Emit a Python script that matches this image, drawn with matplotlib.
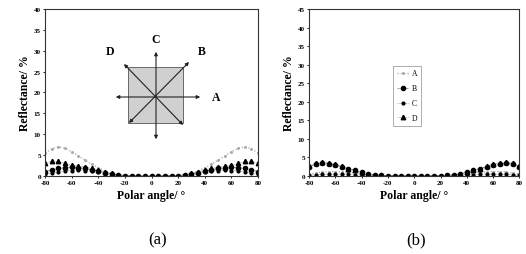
import numpy as np
import matplotlib
matplotlib.use("Agg")
import matplotlib.pyplot as plt

plt.rcParams['font.family'] = ['Liberation Serif', 'DejaVu Serif']

angles = [-80, -75, -70, -65, -60, -55, -50, -45, -40, -35, -30, -25, -20, -15, -10, -5,
          0, 5, 10, 15, 20, 25, 30, 35, 40, 45, 50, 55, 60, 65, 70, 75, 80]

# panel (a)
a_A = [5.5, 6.5, 7.0, 6.6, 5.8, 4.8, 3.8, 2.8, 2.0, 1.2, 0.6, 0.3, 0.1, 0.05, 0.0, 0.0,
       0.0, 0.0, 0.0, 0.05, 0.1, 0.3, 0.6, 1.2, 2.0, 2.8, 3.8, 4.8, 5.8, 6.6, 7.0, 6.5, 5.5]
a_B = [1.0, 1.5, 1.8, 2.0, 2.2, 2.0, 1.8, 1.5, 1.2, 0.8, 0.5, 0.3, 0.1, 0.05, 0.0, 0.0,
       0.0, 0.0, 0.0, 0.05, 0.1, 0.3, 0.5, 0.8, 1.2, 1.5, 1.8, 2.0, 2.2, 2.0, 1.8, 1.5, 1.0]
a_C = [0.4, 0.7, 1.0, 1.2, 1.3, 1.4, 1.3, 1.1, 0.9, 0.6, 0.4, 0.2, 0.1, 0.05, 0.0, 0.0,
       0.0, 0.0, 0.0, 0.05, 0.1, 0.2, 0.4, 0.6, 0.9, 1.1, 1.3, 1.4, 1.3, 1.2, 1.0, 0.7, 0.4]
a_D = [3.0, 3.6, 3.5, 3.0, 2.6, 2.4, 2.1, 1.8, 1.5, 1.0, 0.6, 0.3, 0.1, 0.05, 0.0, 0.0,
       0.0, 0.0, 0.0, 0.05, 0.1, 0.3, 0.6, 1.0, 1.5, 1.8, 2.1, 2.4, 2.6, 3.0, 3.5, 3.6, 3.0]

# panel (b)
b_A = [0.5, 0.8, 1.0, 1.2, 1.2, 1.1, 1.0, 0.8, 0.5, 0.3, 0.2, 0.1, 0.05, 0.0, 0.0, 0.0,
       0.0, 0.0, 0.0, 0.0, 0.05, 0.1, 0.2, 0.3, 0.5, 0.8, 1.0, 1.1, 1.2, 1.2, 1.0, 0.8, 0.5]
b_B = [2.5, 3.2, 3.5, 3.3, 3.0, 2.5, 2.0, 1.5, 1.0, 0.6, 0.3, 0.2, 0.1, 0.05, 0.0, 0.0,
       0.0, 0.0, 0.0, 0.05, 0.1, 0.2, 0.3, 0.6, 1.0, 1.5, 2.0, 2.5, 3.0, 3.3, 3.5, 3.2, 2.5]
b_C = [0.2, 0.3, 0.4, 0.5, 0.5, 0.5, 0.4, 0.3, 0.2, 0.1, 0.05, 0.0, 0.0, 0.0, 0.0, 0.0,
       0.0, 0.0, 0.0, 0.0, 0.0, 0.0, 0.05, 0.1, 0.2, 0.3, 0.4, 0.5, 0.5, 0.5, 0.4, 0.3, 0.2]
b_D = [2.8, 3.5, 3.8, 3.6, 3.2, 2.6, 2.0, 1.5, 1.0, 0.6, 0.3, 0.2, 0.1, 0.05, 0.0, 0.0,
       0.0, 0.0, 0.0, 0.05, 0.1, 0.2, 0.3, 0.6, 1.0, 1.5, 2.0, 2.6, 3.2, 3.6, 3.8, 3.5, 2.8]

xticks = [-80, -60, -40, -20, 0, 20, 40, 60, 80]
xticklabels = ['-80', '-60', '-40', '-20', '0', '20', '40', '60', '80']
yticks_a = [0, 5, 10, 15, 20, 25, 30, 35, 40]
yticks_b = [0, 5, 10, 15, 20, 25, 30, 35, 40, 45]
series_names = ['A', 'B', 'C', 'D']

fig = plt.figure(figsize=(5.26, 2.55), dpi=100)
ax1 = fig.add_axes([0.0856, 0.306, 0.405, 0.655])
ax2 = fig.add_axes([0.5875, 0.306, 0.400, 0.655])

styles = [
    dict(color='#a8a8a8', linestyle=':', linewidth=0.9, marker='.', markersize=2.2),
    dict(color='#444444', linestyle='--', linewidth=0.4, marker='o', markersize=3.0,
         markerfacecolor='black', markeredgecolor='black'),
    dict(color='#444444', linestyle=':', linewidth=0.4, marker='o', markersize=2.0,
         markerfacecolor='black', markeredgecolor='black'),
    dict(color='#444444', linestyle=':', linewidth=0.4, marker='^', markersize=3.2,
         markerfacecolor='black', markeredgecolor='black'),
]

for ax, data, yt, ymax in [(ax1, [a_A, a_B, a_C, a_D], yticks_a, 40),
                           (ax2, [b_A, b_B, b_C, b_D], yticks_b, 45)]:
    for name, vals, st in zip(series_names, data, styles):
        ax.plot(angles, vals, label=name, **st)
    ax.set_xlim(-80, 80)
    ax.set_ylim(0, ymax)
    ax.set_xticks(xticks)
    ax.set_xticklabels(xticklabels)
    ax.set_yticks(yt)
    ax.tick_params(labelsize=5, length=1.5, width=0.6, pad=1.5, direction='out')
    for lab in ax.get_xticklabels() + ax.get_yticklabels():
        lab.set_fontweight('bold')
    for s in ax.spines.values():
        s.set_linewidth(0.8)
        s.set_color('#333333')
    ax.set_xlabel('Polar angle/ °', fontsize=8.5, fontweight='bold', labelpad=3)
    ax.set_ylabel('Reflectance/ %', fontsize=8.5, fontweight='bold', labelpad=2)

leg = ax2.legend(loc='center', bbox_to_anchor=(0.467, 0.48), fontsize=5.5, frameon=True,
                 handlelength=1.6, handletextpad=0.3, borderpad=0.5, labelspacing=0.9,
                 fancybox=False, edgecolor='#888888')
leg.get_frame().set_linewidth(0.6)

# inset direction diagram in panel (a)
def ax_pt(px, py):
    fx = px / 526.0
    fy = 1 - py / 255.0
    x0, y0, w, h = 0.0856, 0.306, 0.405, 0.655
    return ((fx - x0) / w, (fy - y0) / h)

sq0 = ax_pt(128, 124)
sq1 = ax_pt(183, 68)
ax1.add_patch(plt.Rectangle(sq0, sq1[0] - sq0[0], sq1[1] - sq0[1],
                            transform=ax1.transAxes, facecolor='#d0d0d0',
                            edgecolor='#555555', linewidth=0.6, zorder=1))
pairs = [((113, 98), (203, 98)), ((156, 143), (156, 50)),
         ((127, 126), (191, 61)), ((185, 128), (122, 63))]
for (p, q) in pairs:
    ax1.annotate('', xy=ax_pt(*q), xytext=ax_pt(*p), xycoords='axes fraction',
                 textcoords='axes fraction',
                 arrowprops=dict(arrowstyle='<|-|>', color='#222222', lw=0.8, mutation_scale=5))
for lbl, (px, py) in [('C', (156, 40)), ('D', (110, 52)), ('B', (202, 52)), ('A', (216, 98))]:
    x, y = ax_pt(px, py)
    ax1.text(x, y, lbl, transform=ax1.transAxes, ha='center', va='center',
             fontsize=8.5, fontweight='bold')

fig.text(158 / 526, 1 - 240 / 255, '(a)', ha='center', va='center', fontsize=12)
fig.text(416 / 526, 1 - 240 / 255, '(b)', ha='center', va='center', fontsize=12)

fig.savefig('out.png', dpi=100)
